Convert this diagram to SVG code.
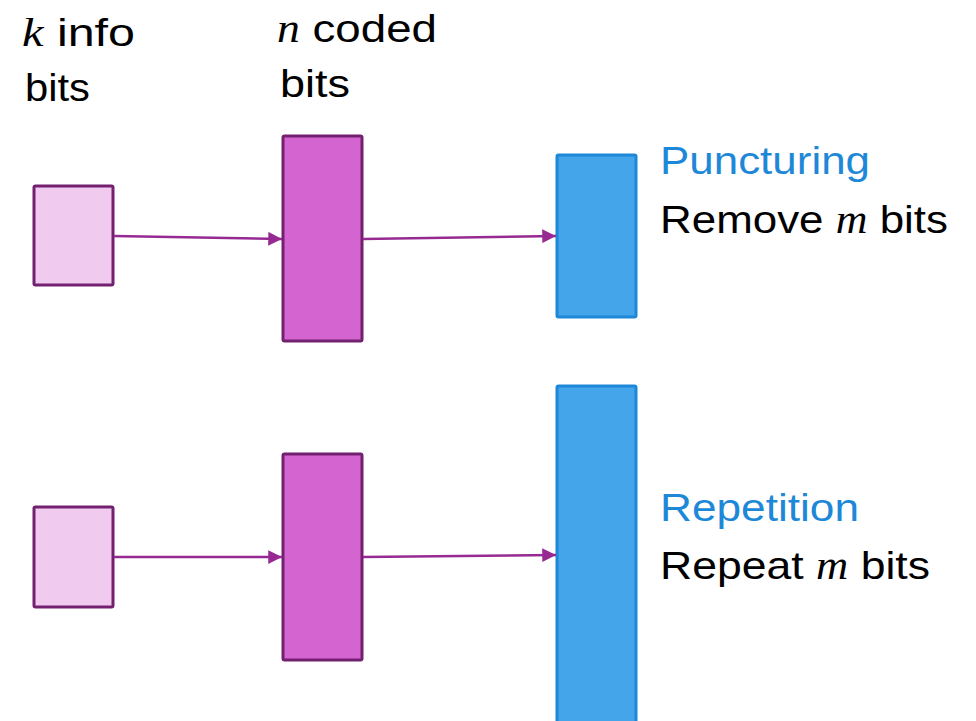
<svg xmlns="http://www.w3.org/2000/svg" width="976" height="721" viewBox="0 0 976 721">
<defs>
<style>
.info{fill:#F0CBEF;stroke:#732070;stroke-width:3}
.coded{fill:#D464D0;stroke:#732070;stroke-width:3}
.out{fill:#45A5EB;stroke:#1E88D8;stroke-width:3}
.conn{stroke:#962A92;stroke-width:2.5;fill:none;marker-end:url(#ah)}
text{font-family:"Liberation Sans",Arial,sans-serif;font-size:39px;fill:#000}
.blue{fill:#1E88D8}
.m{font-family:"Liberation Serif","Times New Roman",serif;font-style:italic}
</style>
<marker id="ah" viewBox="0 0 10 10" refX="10" refY="5" markerWidth="6" markerHeight="5.5" markerUnits="strokeWidth" orient="auto">
<path d="M0,0 L10,5 L0,10 Z" fill="#962A92"/>
</marker>
</defs>
<rect width="976" height="721" fill="#fff"/>
<g id="labels">
<text x="22" y="46" textLength="113" lengthAdjust="spacingAndGlyphs"><tspan class="m">k</tspan> info</text>
<text x="25" y="101" textLength="65" lengthAdjust="spacingAndGlyphs">bits</text>
<text x="277" y="42" textLength="160" lengthAdjust="spacingAndGlyphs"><tspan class="m">n</tspan> coded</text>
<text x="280" y="97" textLength="70" lengthAdjust="spacingAndGlyphs">bits</text>
</g>
<g id="top-info"><rect class="info" x="34" y="186" width="79" height="99" rx="1.5"/></g>
<g id="top-coded"><rect class="coded" x="283" y="136" width="79" height="205" rx="1.5"/></g>
<g id="top-out"><rect class="out" x="557" y="155" width="79" height="162" rx="1.5"/></g>
<g id="bottom-info"><rect class="info" x="34" y="507" width="79" height="100" rx="1.5"/></g>
<g id="bottom-coded"><rect class="coded" x="283" y="454" width="79" height="206" rx="1.5"/></g>
<g id="bottom-out"><rect class="out" x="557" y="386" width="79" height="345" rx="1.5"/></g>
<g id="connectors">
<line class="conn" x1="114" y1="236" x2="282" y2="239"/>
<line class="conn" x1="363" y1="239" x2="556" y2="236"/>
<line class="conn" x1="114" y1="557" x2="282" y2="557"/>
<line class="conn" x1="363" y1="557" x2="556" y2="555"/>
</g>
<g id="puncturing-label">
<text class="blue" x="660" y="174" textLength="210" lengthAdjust="spacingAndGlyphs">Puncturing</text>
<text x="660" y="233" textLength="288" lengthAdjust="spacingAndGlyphs">Remove <tspan class="m">m</tspan> bits</text>
</g>
<g id="repetition-label">
<text class="blue" x="660" y="521" textLength="199" lengthAdjust="spacingAndGlyphs">Repetition</text>
<text x="660" y="579" textLength="270" lengthAdjust="spacingAndGlyphs">Repeat <tspan class="m">m</tspan> bits</text>
</g>
</svg>
